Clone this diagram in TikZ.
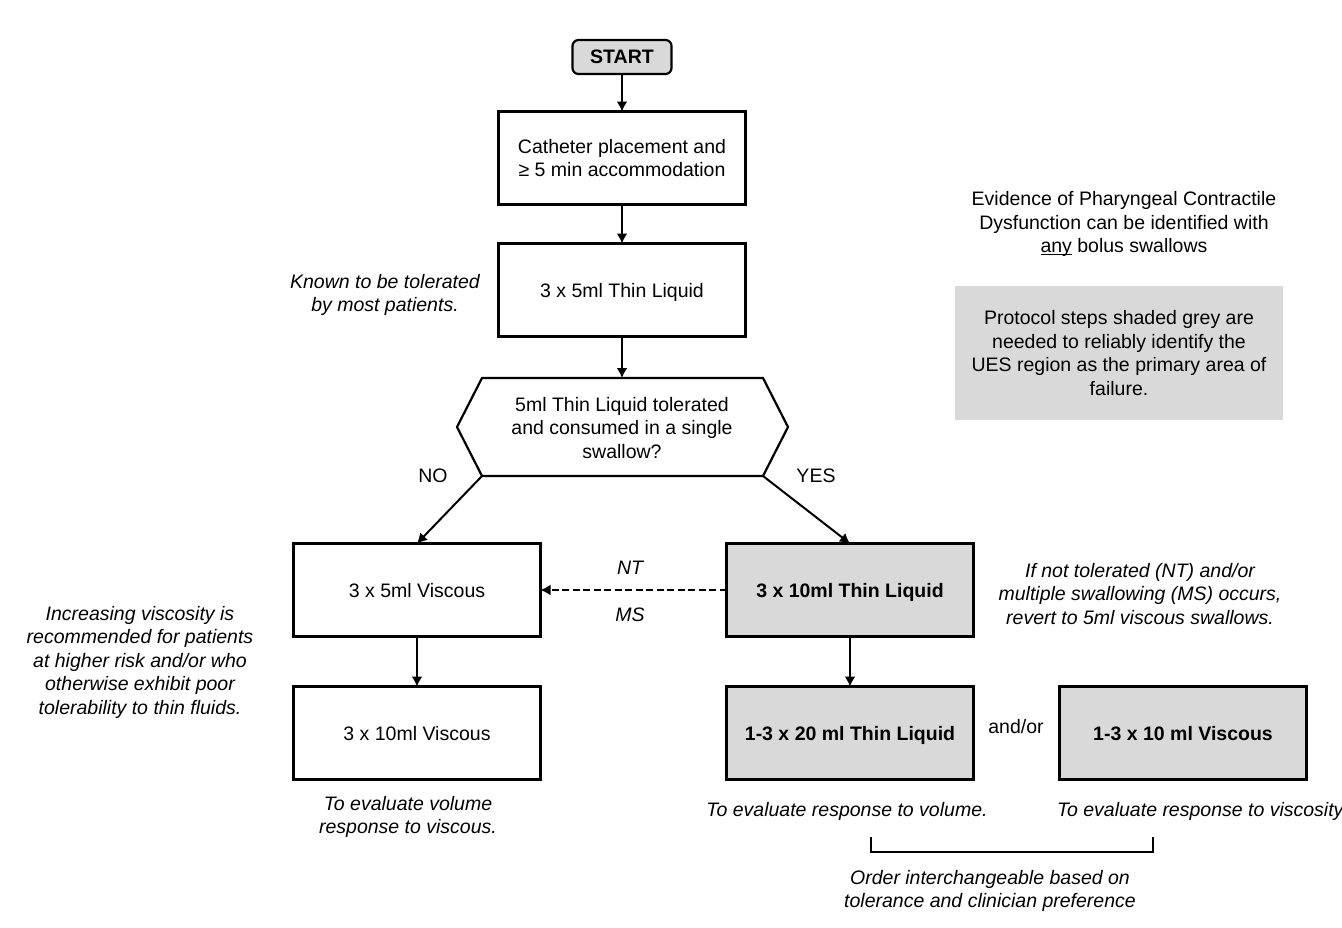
\documentclass[tikz,border=0pt]{standalone}
\usepackage{fontspec}
\setmainfont{Liberation Sans}
\usetikzlibrary{arrows.meta}
\definecolor{shade}{HTML}{D9D9D9}
\newlength\myulw
\newcommand\myul[1]{\settowidth\myulw{#1}\rlap{\rule[-2.6pt]{\myulw}{1pt}}#1}
\begin{document}
\begin{tikzpicture}[x=1pt,y=-1pt,
  every node/.style={font=\fontsize{19.5}{23.5}\selectfont, inner sep=0pt, outer sep=0pt},
  stepbox/.style={draw, line width=2.2pt, minimum width=247pt, minimum height=93pt, align=center, text depth=0pt},
  greybox/.style={stepbox, fill=shade, font=\fontsize{19.5}{23.5}\selectfont\bfseries},
  note/.style={align=center, font=\fontsize{19.5}{23.5}\selectfont\itshape},
  plain/.style={align=center},
  arr/.style={line width=2pt, -{Latex[length=10pt,width=11pt]}},
]
\useasboundingbox (0,0) rectangle (1342,927);

% main flow
\node[draw, line width=2.2pt, fill=shade, rounded corners=6pt, minimum width=99pt, minimum height=34pt,
      font=\fontsize{19.5}{23.5}\selectfont\bfseries] (start) at (622,57) {START};
\node[stepbox] (cath) at (622,158) {Catheter placement and\\≥ 5 min accommodation};
\node[stepbox] (thin5) at (622,290) {3 x 5ml Thin Liquid};

% decision hexagon
\coordinate (htl) at (482,378);
\coordinate (htr) at (763,378);
\coordinate (hr)  at (788,427);
\coordinate (hbr) at (763,476);
\coordinate (hbl) at (482,476);
\coordinate (hl)  at (457,427);
\draw[line width=2.2pt, line join=miter] (htl) -- (htr) -- (hr) -- (hbr) -- (hbl) -- (hl) -- cycle;
\node[plain] (dec) at (622,428) {5ml Thin Liquid tolerated\\and consumed in a single\\swallow?};
\node (no) at (433,476) {NO};
\node (yes) at (816,476) {YES};

\node[stepbox] (v5) at (417,590) {3 x 5ml Viscous};
\node[greybox] (t10) at (850,590) {3 x 10ml Thin Liquid};
\node[stepbox] (v10) at (417,733) {3 x 10ml Viscous};
\node[greybox] (t20) at (850,733) {1-3 x 20 ml Thin Liquid};
\node[greybox] (vv10) at (1183,733) {1-3 x 10 ml Viscous};
\node (andor) at (1016,727) {and/or};

% connectors
\draw[arr] (start) -- (cath);
\draw[arr] (cath) -- (thin5);
\draw[arr] (thin5.south) -- (htl -| thin5.south);
\draw[arr] (hbl) -- (v5.north);
\draw[arr] (hbr) -- (t10.north);
\draw[arr, dash pattern=on 7pt off 3.5pt] (t10.west) -- (v5.east);
\node[note] (nt) at (630,568) {NT};
\node[note] (ms) at (630,615) {MS};
\draw[arr] (v5) -- (v10);
\draw[arr] (t10) -- (t20);

% notes
\node[note] (known) at (385,295) {Known to be tolerated\\by most patients.};
\node[note] (incr) at (140,662) {Increasing viscosity is\\recommended for patients\\at higher risk and/or who\\otherwise exhibit poor\\tolerability to thin fluids.};
\node[note] (ifnot) at (1140,594) {If not tolerated (NT) and/or\\multiple swallowing (MS) occurs,\\revert to 5ml viscous swallows.};
\node[plain] (evid) at (1124,224) {Evidence of Pharyngeal Contractile\\Dysfunction can be identified with\\\myul{any} bolus swallows};
\node[fill=shade, minimum width=328pt, minimum height=134pt, align=center] (proto) at (1119,353)
  {Protocol steps shaded grey are\\needed to reliably identify the\\UES region as the primary area of\\failure.};

\node[note] (evvol) at (408,817) {To evaluate volume\\response to viscous.};
\node[note] (evr) at (847,811) {To evaluate response to volume.};
\node[note, anchor=west] (evvis) at (1057,811) {To evaluate response to viscosity.};

% bracket
\coordinate (bl) at (871,837);
\coordinate (br) at (1153,837);
\draw[line width=1.2pt] (bl) -- ++(0,15) -| (br);
\node[note] (order) at (990,891) {Order interchangeable based on\\tolerance and clinician preference};
\end{tikzpicture}
\end{document}
